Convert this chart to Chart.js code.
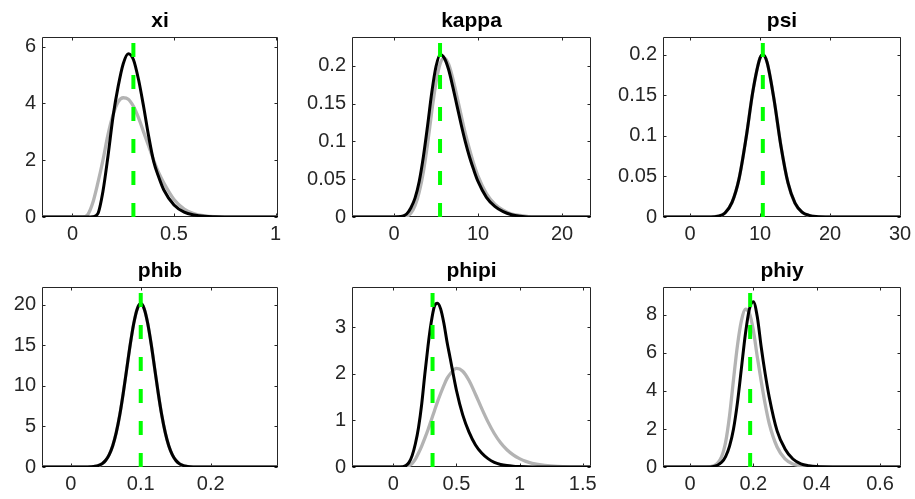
<!DOCTYPE html>
<html>
<head>
<meta charset="utf-8">
<script src="https://cdn.jsdelivr.net/npm/chart.js@4.4.1/dist/chart.umd.min.js"></script>
<style>
  html, body { margin: 0; padding: 0; background: #fff; width: 915px; height: 499px; overflow: hidden; }
  canvas { position: absolute; }
</style>
</head>
<body>
<script>
// ---- parameter names (panel titles) ----
const paramNames = ['xi', 'kappa', 'psi', 'phib', 'phipi', 'phiy'];

// ---- density grids and values: prior (grey) and posterior (black) ----
const xiGrid  = [-0.15, 0, 0.05, 0.075, 0.1, 0.125, 0.15, 0.175, 0.2, 0.225, 0.25, 0.275, 0.3, 0.325, 0.35, 0.375, 0.4, 0.425, 0.45, 0.5, 0.55, 0.6, 0.65, 0.7, 0.8, 1.012];
const xiPrior = [0, 0, 0, 0.08, 0.5, 1.2, 2.0, 2.9, 3.6, 4.05, 4.2, 4.15, 3.9, 3.5, 3.0, 2.5, 2.0, 1.55, 1.2, 0.62, 0.28, 0.11, 0.04, 0.01, 0, 0];
const xiPost  = [0, 0, 0, 0, 0.01, 0.12, 0.9, 2.15, 3.55, 4.6, 5.4, 5.75, 5.55, 4.85, 3.9, 2.85, 1.95, 1.4, 0.95, 0.42, 0.17, 0.07, 0.025, 0.01, 0, 0];

const kappaGrid  = [-5, 0, 1, 1.5, 2, 2.5, 3, 3.5, 4, 4.5, 5, 5.5, 6, 6.5, 7, 7.5, 8, 8.5, 9, 9.5, 10, 11, 12, 13, 14, 15, 16, 18, 23.45];
const kappaPrior = [0, 0, 0, 0.001, 0.005, 0.015, 0.033, 0.06, 0.097, 0.14, 0.178, 0.203, 0.21, 0.202, 0.183, 0.159, 0.134, 0.11, 0.089, 0.07, 0.054, 0.031, 0.017, 0.009, 0.004, 0.002, 0.0005, 0, 0];
const kappaPost  = [0, 0, 0.001, 0.004, 0.012, 0.025, 0.047, 0.08, 0.121, 0.165, 0.199, 0.215, 0.21, 0.195, 0.172, 0.147, 0.122, 0.099, 0.079, 0.062, 0.047, 0.026, 0.014, 0.007, 0.003, 0.001, 0, 0, 0];

const psiGrid  = [-3.86, 0, 3, 4, 5, 6, 7, 8, 9, 10, 10.4, 11, 12, 13, 14, 15, 16, 17, 18, 20, 30.14];
const psiPrior = [0, 0, 0, 0.001, 0.005, 0.018, 0.047, 0.097, 0.156, 0.196, 0.2, 0.191, 0.145, 0.087, 0.042, 0.017, 0.006, 0.002, 0.0005, 0, 0];
const psiPost  = [0, 0, 0, 0.001, 0.005, 0.018, 0.047, 0.097, 0.156, 0.196, 0.2, 0.191, 0.145, 0.087, 0.042, 0.017, 0.006, 0.002, 0.0005, 0, 0];

const phibGrid  = [-0.041, 0, 0.03, 0.035, 0.04, 0.045, 0.05, 0.055, 0.06, 0.065, 0.07, 0.075, 0.08, 0.085, 0.09, 0.095, 0.1, 0.105, 0.11, 0.115, 0.12, 0.125, 0.13, 0.135, 0.14, 0.145, 0.15, 0.155, 0.16, 0.165, 0.17, 0.18, 0.2, 0.296];
const phibPrior = [0, 0, 0.04, 0.09, 0.2, 0.42, 0.83, 1.53, 2.62, 4.23, 6.4, 9.1, 12.1, 15.1, 17.7, 19.5, 20.15, 19.5, 17.7, 15.1, 12.1, 9.1, 6.4, 4.23, 2.62, 1.53, 0.83, 0.42, 0.2, 0.09, 0.04, 0.005, 0, 0];
const phibPost  = [0, 0, 0.04, 0.09, 0.2, 0.42, 0.83, 1.53, 2.62, 4.23, 6.4, 9.1, 12.1, 15.1, 17.7, 19.5, 20.15, 19.5, 17.7, 15.1, 12.1, 9.1, 6.4, 4.23, 2.62, 1.53, 0.83, 0.42, 0.2, 0.09, 0.04, 0.005, 0, 0];

const phipiGrid  = [-0.327, 0, 0.05, 0.1, 0.125, 0.15, 0.175, 0.2, 0.225, 0.25, 0.275, 0.3, 0.325, 0.35, 0.375, 0.4, 0.425, 0.45, 0.5, 0.55, 0.6, 0.65, 0.7, 0.75, 0.8, 0.85, 0.9, 0.95, 1.0, 1.05, 1.1, 1.2, 1.3, 1.4, 1.566];
const phipiPrior = [0, 0, 0, 0.01, 0.03, 0.08, 0.17, 0.3, 0.45, 0.62, 0.8, 1.0, 1.2, 1.4, 1.58, 1.75, 1.9, 2.0, 2.12, 2.06, 1.86, 1.57, 1.26, 0.97, 0.72, 0.52, 0.37, 0.26, 0.18, 0.12, 0.08, 0.035, 0.012, 0.003, 0];
const phipiPost  = [0, 0, 0, 0.03, 0.1, 0.25, 0.5, 0.85, 1.35, 2.0, 2.6, 3.1, 3.45, 3.52, 3.4, 3.1, 2.7, 2.35, 1.65, 1.12, 0.75, 0.48, 0.3, 0.18, 0.1, 0.055, 0.03, 0.017, 0.01, 0.005, 0.002, 0, 0, 0, 0];

const phiyGrid  = [-0.085, 0, 0.05, 0.075, 0.1, 0.1125, 0.125, 0.1375, 0.15, 0.1625, 0.175, 0.1875, 0.2, 0.2125, 0.225, 0.2375, 0.25, 0.275, 0.3, 0.325, 0.35, 0.375, 0.4, 0.45, 0.5, 0.666];
const phiyPrior = [0, 0, 0, 0.06, 0.55, 1.3, 2.7, 4.6, 6.4, 7.7, 8.3, 8.1, 7.2, 5.8, 4.5, 3.3, 2.3, 1.05, 0.43, 0.16, 0.06, 0.02, 0, 0, 0, 0];
const phiyPost  = [0, 0, 0, 0.03, 0.25, 0.55, 1.1, 2.0, 3.4, 5.2, 7.0, 8.3, 8.7, 7.9, 6.3, 4.9, 3.7, 1.9, 0.95, 0.42, 0.17, 0.07, 0.02, 0, 0, 0];

// ---- posterior modes (green dashed lines) ----
const posteriorModes = [0.3, 5.48, 10.4, 0.1, 0.311, 0.19];

// ---- axis limits and ticks ----
const xLimits = [[-0.15, 1.012], [-5, 23.45], [-3.86, 30.14], [-0.041, 0.296], [-0.327, 1.566], [-0.085, 0.666]];
const yMax    = [6.34, 0.238, 0.222, 22.2, 3.87, 9.47];
const xTickValues = [[0, 0.5, 1], [0, 10, 20], [0, 10, 20, 30], [0, 0.1, 0.2], [0, 0.5, 1, 1.5], [0, 0.2, 0.4, 0.6]];
const xTickLabels = [['0', '0.5', '1'], ['0', '10', '20'], ['0', '10', '20', '30'], ['0', '0.1', '0.2'], ['0', '0.5', '1', '1.5'], ['0', '0.2', '0.4', '0.6']];
const yTickValues = [[0, 2, 4, 6], [0, 0.05, 0.1, 0.15, 0.2], [0, 0.05, 0.1, 0.15, 0.2], [0, 5, 10, 15, 20], [0, 1, 2, 3], [0, 2, 4, 6, 8]];
const yTickLabels = [['0', '2', '4', '6'], ['0', '0.05', '0.1', '0.15', '0.2'], ['0', '0.05', '0.1', '0.15', '0.2'], ['0', '5', '10', '15', '20'], ['0', '1', '2', '3'], ['0', '2', '4', '6', '8']];

const grids  = [xiGrid, kappaGrid, psiGrid, phibGrid, phipiGrid, phiyGrid];
const priors = [xiPrior, kappaPrior, psiPrior, phibPrior, phipiPrior, phiyPrior];
const posts  = [xiPost, kappaPost, psiPost, phibPost, phipiPost, phiyPost];

// ---- page layout: plot box of each subplot [left, top, right, bottom] ----
const plotBoxes = [[42, 37, 278, 217], [352, 37, 591, 217], [663, 37, 901, 217],
                   [42, 287, 278, 467], [352, 287, 591, 467], [663, 287, 901, 467]];
const MARGIN = { left: 56, top: 37, right: 22, bottom: 32 };
const FONT = "'Liberation Sans', Arial, Helvetica, sans-serif";
const AXIS_COLOR = '#262626';
const TICK_LEN = 3;

// Axes box with inward tick marks on all four sides
const boxAndTicks = {
  id: 'boxAndTicks',
  beforeDatasetsDraw(chart, args, opts) {
    const { ctx, chartArea: a, scales } = chart;
    const l = Math.round(a.left) + 0.5, r = Math.round(a.right) - 0.5;
    const t = Math.round(a.top) + 0.5, b = Math.round(a.bottom) - 0.5;
    ctx.save();
    ctx.strokeStyle = AXIS_COLOR;
    ctx.lineWidth = 1;
    ctx.beginPath();
    ctx.rect(l, t, r - l, b - t);
    opts.xt.forEach(v => {
      const px = Math.round(scales.x.getPixelForValue(v)) + 0.5;
      ctx.moveTo(px, b); ctx.lineTo(px, b - TICK_LEN);
      ctx.moveTo(px, t); ctx.lineTo(px, t + TICK_LEN);
    });
    opts.yt.forEach(v => {
      const py = Math.round(scales.y.getPixelForValue(v)) + 0.5;
      ctx.moveTo(l, py); ctx.lineTo(l + TICK_LEN, py);
      ctx.moveTo(r, py); ctx.lineTo(r - TICK_LEN, py);
    });
    ctx.stroke();
    ctx.restore();
  }
};

paramNames.forEach((name, i) => {
  const [L, T, R, B] = plotBoxes[i];
  const canvas = document.createElement('canvas');
  const w = (R - L) + MARGIN.left + MARGIN.right;
  const h = (B - T) + MARGIN.top + MARGIN.bottom;
  canvas.width = w; canvas.height = h;
  canvas.style.left = (L - MARGIN.left) + 'px';
  canvas.style.top = (T - MARGIN.top) + 'px';
  canvas.style.width = w + 'px';
  canvas.style.height = h + 'px';
  document.body.appendChild(canvas);

  const grid = grids[i];
  const toPoints = vals => grid.map((x, k) => ({ x: x, y: vals[k] }));

  new Chart(canvas, {
    type: 'line',
    data: {
      datasets: [
        { // posterior mode
          data: [{ x: posteriorModes[i], y: 0 }, { x: posteriorModes[i], y: yMax[i] }],
          borderColor: '#00ff00', borderWidth: 4, borderDash: [14, 18],
          pointRadius: 0, tension: 0
        },
        { // posterior density
          data: toPoints(posts[i]),
          borderColor: '#000000', borderWidth: 3,
          pointRadius: 0, cubicInterpolationMode: 'monotone'
        },
        { // prior density
          data: toPoints(priors[i]),
          borderColor: 'rgb(179,179,179)', borderWidth: 3.3,
          pointRadius: 0, cubicInterpolationMode: 'monotone'
        }
      ]
    },
    options: {
      responsive: false,
      animation: false,
      devicePixelRatio: 1,
      events: [],
      layout: { padding: { left: 0, right: MARGIN.right, top: 0, bottom: 0 } },
      scales: {
        x: {
          type: 'linear',
          min: xLimits[i][0], max: xLimits[i][1],
          grid: { display: false, drawTicks: false },
          border: { display: false },
          afterBuildTicks: s => { s.ticks = xTickValues[i].map(v => ({ value: v })); },
          afterFit: s => { s.height = MARGIN.bottom; },
          ticks: {
            autoSkip: false, maxRotation: 0, padding: 5,
            color: AXIS_COLOR,
            font: { family: FONT, size: 20 },
            callback: (v, k) => xTickLabels[i][k]
          }
        },
        y: {
          type: 'linear',
          min: 0, max: yMax[i],
          grid: { display: false, drawTicks: false },
          border: { display: false },
          afterBuildTicks: s => { s.ticks = yTickValues[i].map(v => ({ value: v })); },
          afterFit: s => { s.width = MARGIN.left; },
          ticks: {
            autoSkip: false, padding: 6,
            color: AXIS_COLOR,
            font: { family: FONT, size: 20 },
            callback: (v, k) => yTickLabels[i][k]
          }
        }
      },
      plugins: {
        legend: { display: false },
        tooltip: { enabled: false },
        title: {
          display: true, text: name, fullSize: false,
          color: '#000000',
          font: { family: FONT, size: 21, weight: 'bold', lineHeight: '24px' },
          padding: { top: 9, bottom: 4 }
        },
        boxAndTicks: { xt: xTickValues[i], yt: yTickValues[i] }
      }
    },
    plugins: [boxAndTicks]
  });
});
</script>
</body>
</html>
